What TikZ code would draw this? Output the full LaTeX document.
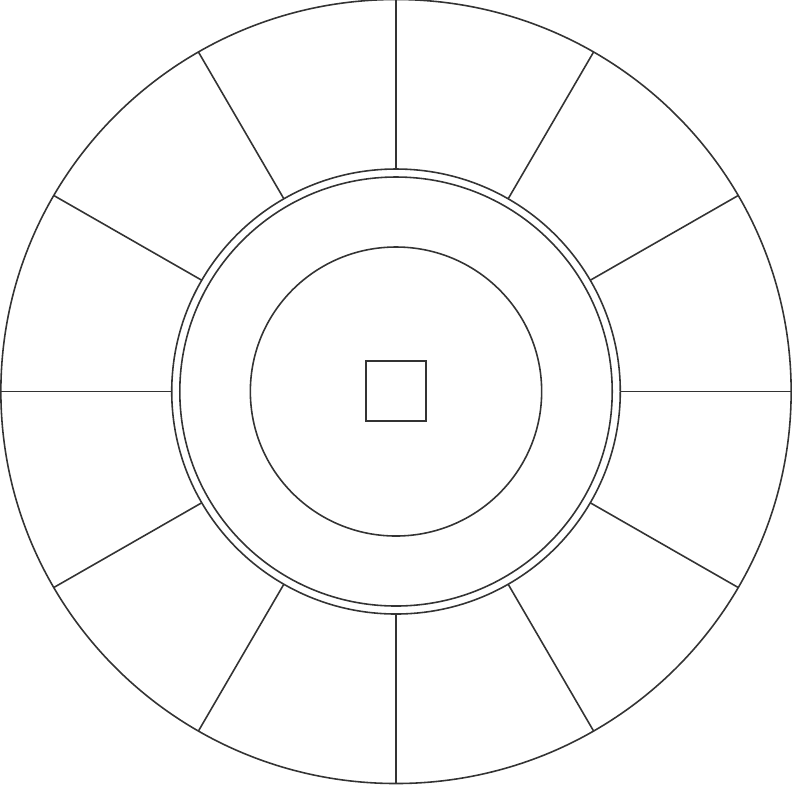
\documentclass[tikz,border=0pt]{standalone}
\usepackage{tikz}
\usetikzlibrary{positioning}

\begin{document}
\begin{tikzpicture}[line/.style={draw=black!80,line width=0.45pt}]
  \useasboundingbox (0,0) rectangle (7.92,7.84);
      \coordinate (hub) at (3.96,3.925);
  \begin{scope}[shift={(hub)},xscale=1.008]
  \draw[line] (0,0) circle (3.92);
  \draw[line] (0,0) circle (2.225);
  \draw[line] (0,0) circle (2.145);
  \draw[line] (0,0) circle (1.445);

      \foreach \a in {0,30,...,330}
        \draw[line] (\a:2.225) -- (\a:3.92);
  \end{scope}
      \node[line,draw,minimum size=0.6cm,inner sep=0pt] (box) at (3.96,3.93) {};
\end{tikzpicture}
\end{document}
